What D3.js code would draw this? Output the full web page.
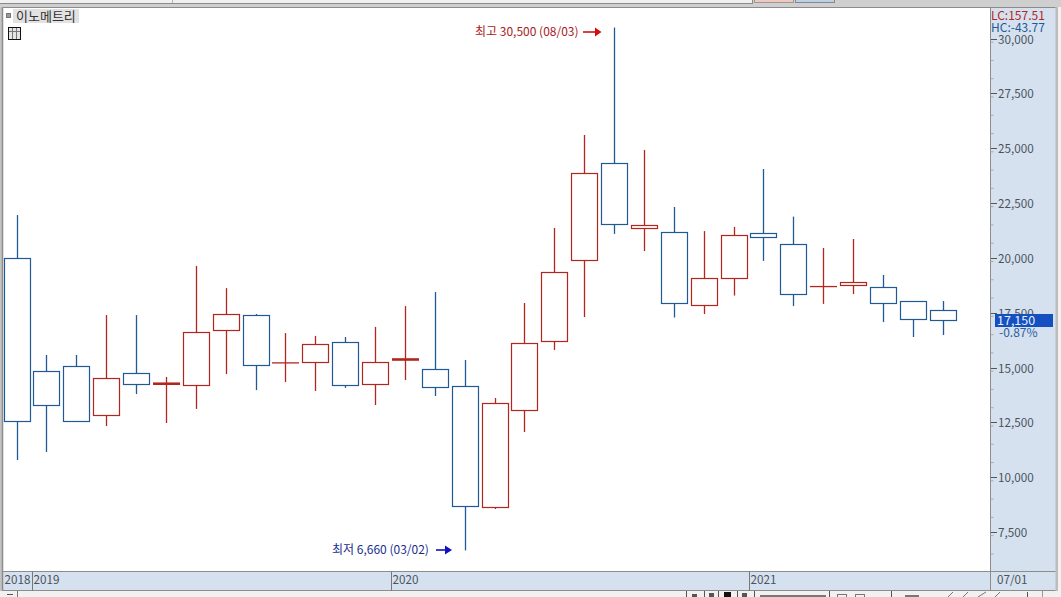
<!DOCTYPE html>
<html><head><meta charset="utf-8">
<script src="https://cdn.jsdelivr.net/npm/d3@7/dist/d3.min.js"></script>
<style>html,body{margin:0;padding:0;background:#f0f0f0;overflow:hidden}svg{display:block}text{font-family:"Noto Sans CJK KR","Liberation Sans",sans-serif}</style>
</head><body><svg id="c" width="1061" height="597"></svg>
<script>
const opens  = [19970,14820,15070,12830,14750,14250,14220,16690,17390,15210,15230,16160,14270,15340,14930,14160,8660,13040,16230,19920,24320,21380,21200,17870,19060,21130,20610,18690,18740,18690,18030,17640];
const closes = [12540,13310,12580,14520,14250,14270,16620,17420,15110,15210,16050,14180,15250,15390,14130,8690,13380,16120,19350,23850,21540,21500,17920,19080,21020,20950,18370,18690,18880,17960,17230,17150];
const highs  = [21950,15570,15570,17390,17390,14570,19630,18620,17440,16570,16440,16390,16850,17800,18440,15340,13610,17940,21360,25600,30500,24920,22320,21220,21410,24050,21880,20450,20860,19220,18030,18030];
const lows   = [10780,11150,12580,12330,13790,12470,13110,14700,13970,14340,13930,14070,13290,14430,13700,6660,8550,12060,15800,17300,21090,20310,17280,17440,18280,19860,17800,17900,18350,17070,16390,16480];
const priceTicks = [7500,10000,12500,15000,17500,20000,22500,25000,27500,30000];
const yearLabels = [["2018",0],["2019",1],["2020",13],["2021",25]];
const lastPrice = 17150;
const title = "이노메트리";
const highNote = "최고 30,500 (08/03)", lowNote = "최저 6,660 (03/02)";
const lcText = "LC:157.51", hcText = "HC:-43.77", changeText = "-0.87%", endDate = "07/01";

const RED="#b3261e", BLUE="#1f5a96", PANEL="#d5e1ef", EDGE="#8c8c8c", TXT="#4a535c";
const svg=d3.select("#c");
const y=d3.scaleLinear().domain([7500,30000]).range([532,38.5]);
const x=d3.scaleLinear().domain([0,31]).range([17,943.187]);
const fmt=d3.format(",");
const rect=(a,b,w,h,f,s)=>svg.append("rect").attr("x",a).attr("y",b).attr("width",w).attr("height",h).attr("fill",f).attr("stroke",s||"none");
const line=(a,b,c,d,s,w)=>svg.append("line").attr("x1",a).attr("y1",b).attr("x2",c).attr("y2",d).attr("stroke",s).attr("stroke-width",w||1);
const text=(a,b,t,f,s,anc)=>svg.append("text").attr("x",a).attr("y",b).text(t).attr("fill",f).attr("font-size",s).attr("text-anchor",anc||"start");

// window chrome
rect(0,0,1061,597,"#f1f1f1");
rect(0,0,1061,7,"#cfcfcf");
rect(-1,-1,753.5,4.5,"#f0f0f0","#8a8a8a");
line(172.5,0,172.5,3,"#b5b5b5");
rect(754.5,-1,39,3.5,"#f0c8c0","#999");
rect(795.5,-1,39,3.5,"#bcd0e8","#888");
rect(0,7,3,584,"#c4c4c4");
rect(1055,7,3,584,"#bcbcbc");
rect(2.5,7.5,988,564,"#ffffff");
rect(990.5,7.5,65,564,PANEL);
rect(2.5,571.5,1053,19,PANEL);
line(2.5,7.5,1055.5,7.5,EDGE); line(2.5,7.5,2.5,590.5,EDGE,1.5);
line(2.5,571.5,1055.5,571.5,EDGE); line(2.5,590.5,1055.5,590.5,EDGE);
line(990.5,7.5,990.5,590.5,EDGE);

// title
rect(6.5,13.5,4,4,"#9a9a9a","#777");
rect(13,9,66,14,"#e2e2e2");
text(16,21,title,"#333",13);
rect(8.5,27.5,12,12,"#e4e4e4","#111");
line(9,31.5,20,31.5,"#777"); line(12.5,28,12.5,39,"#777"); line(16.5,28,16.5,39,"#777");

// y axis
d3.range(6500,30500,2500/3).forEach(v=>line(990.5,y(v),993.5,y(v),"#a8a8a8"));
priceTicks.forEach(v=>{
  line(991,Math.round(y(v))+.5,997,Math.round(y(v))+.5,"#555");
  text(998,y(v)+5,fmt(v),TXT,11.7);
});

// x axis
yearLabels.forEach(([l,i])=>{
  const px=i===0?3.5:Math.floor(x(i)-14.2)+.5;
  if(i>0) line(px,571.5,px,590.5,"#777");
  text(px+1,584,l,TXT,11.7);
});
text(997,584,endDate,TXT,11.7);

// candles
const bw=26;
opens.forEach((o,i)=>{
  const c=closes[i], col=c<o?BLUE:RED;
  const cx=Math.floor(x(i))+.5;
  line(cx,y(highs[i]),cx,y(lows[i]),col,1.3);
  const t=y(Math.max(o,c)), b=y(Math.min(o,c));
  if(b-t<1.5){
    line(cx-13.5,(t+b)/2,cx+13.5,(t+b)/2,col,o===c?1.3:2.6);
  } else {
    const rt=Math.round(t)+.5, rb=Math.round(b)+.5;
    rect(cx-13,rt,bw,rb-rt,"#fff",col).attr("stroke-width",1.2);
  }
});

// notes
text(475,36,highNote,"#a8201a",12);
line(583,32,597,32,"#d01010",1.6);
svg.append("path").attr("d","M595,27.5 L601.5,32 L595,36.5 Z").attr("fill","#d01010");
text(332,554,lowNote,"#1c2f8c",12);
line(436,550,447,550,"#1010c0",1.6);
svg.append("path").attr("d","M445,545.5 L452,550 L445,554.5 Z").attr("fill","#1010c0");

// right panel labels
text(991,19.5,lcText,"#b3261e",12);
text(991,32,hcText,"#1f5a96",12);
rect(995,314,58,13,"#1450c0");
text(997,325,fmt(lastPrice),"#e8f0ff",12.5);
text(999,337,changeText,"#2a5f9e",12);

// bottom toolbar hints
line(17.5,591,17.5,597,"#777");
line(7,594.5,13,594.5,"#555");
[686,704,718,737,754,829,891].forEach(a=>line(a+.5,591,a+.5,597,"#555"));
rect(692,594,5,3,"#555"); rect(709,593,5,4,"#555"); rect(724,592,7,5,"#111"); rect(742,593,5,4,"#555");
rect(760,595,66,2,"#777");
rect(837.5,594.5,9,6,"none","#777"); rect(855.5,594.5,9,6,"none","#777");
rect(905,595,14,2,"#777");
[[948,597,953,592],[963,597,968,592],[978,597,986,592],[995,597,1000,592]].forEach(d=>line(d[0],d[1],d[2],d[3],"#777"));
line(1027.5,592,1027.5,597,"#555"); line(1042.5,591,1042.5,597,"#999");
</script></body></html>
